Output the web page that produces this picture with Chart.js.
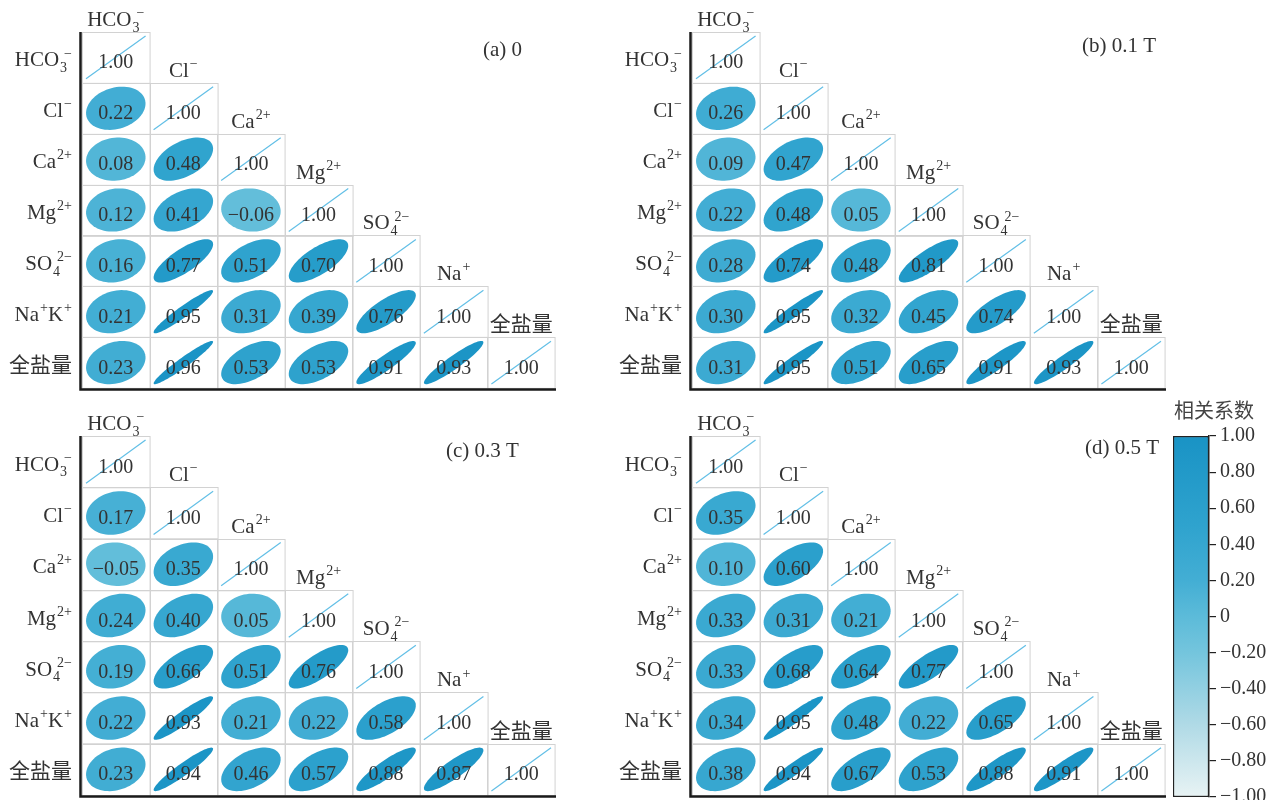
<!DOCTYPE html>
<html>
<head>
<meta charset="utf-8">
<script src="https://cdn.jsdelivr.net/npm/chart.js@4.4.1/dist/chart.umd.min.js"></script>
<style>
  html, body { margin: 0; padding: 0; background: #fff; }
  body { width: 1284px; height: 800px; overflow: hidden; position: relative; }
  canvas { position: absolute; }
</style>
</head>
<body>
<canvas id="pa" width="600" height="400" style="left:0;top:0"></canvas>
<canvas id="pb" width="600" height="400" style="left:610px;top:0"></canvas>
<canvas id="pc" width="600" height="396" style="left:0;top:404px"></canvas>
<canvas id="pd" width="600" height="396" style="left:610px;top:404px"></canvas>
<canvas id="cbar" width="124" height="420" style="left:1160px;top:395px"></canvas>
<script>
// variables (same order for rows and columns)
const rowLabels = ["HCO{_3}{^−}", "Cl{^−}", "Ca{^2+}", "Mg{^2+}", "SO{_4}{^2−}", "Na{^+}K{^+}", "全盐量"];
const colLabels = ["HCO{_3}{^−}", "Cl{^−}", "Ca{^2+}", "Mg{^2+}", "SO{_4}{^2−}", "Na{^+}", "全盐量"];

const panelTitles = ["(a) 0", "(b) 0.1 T", "(c) 0.3 T", "(d) 0.5 T"];

// lower triangle, row by row (row 2 .. row 7)
const corrA = [
    [0.22],
    [0.08, 0.48],
    [0.12, 0.41, -0.06],
    [0.16, 0.77, 0.51, 0.70],
    [0.21, 0.95, 0.31, 0.39, 0.76],
    [0.23, 0.96, 0.53, 0.53, 0.91, 0.93]
];
const corrB = [
    [0.26],
    [0.09, 0.47],
    [0.22, 0.48, 0.05],
    [0.28, 0.74, 0.48, 0.81],
    [0.30, 0.95, 0.32, 0.45, 0.74],
    [0.31, 0.95, 0.51, 0.65, 0.91, 0.93]
];
const corrC = [
    [0.17],
    [-0.05, 0.35],
    [0.24, 0.40, 0.05],
    [0.19, 0.66, 0.51, 0.76],
    [0.22, 0.93, 0.21, 0.22, 0.58],
    [0.23, 0.94, 0.46, 0.57, 0.88, 0.87]
];
const corrD = [
    [0.35],
    [0.10, 0.60],
    [0.33, 0.31, 0.21],
    [0.33, 0.68, 0.64, 0.77],
    [0.34, 0.95, 0.48, 0.22, 0.65],
    [0.38, 0.94, 0.67, 0.53, 0.88, 0.91]
];

const legendTitle = "相关系数";

// colour scale
const cmapPos = [-1, -0.6, -0.2, 0, 0.2, 0.5, 1];
const cmapColors = ["#e8f3f4", "#b0dae6", "#74c5dd", "#5cbbd9", "#43aed4", "#2fa3ce", "#1993c5"];

const FONT = '"Liberation Serif", "Noto Sans CJK SC", serif';
const TXT = "#333";

function hexRgb(h) {
    return [parseInt(h.slice(1, 3), 16), parseInt(h.slice(3, 5), 16), parseInt(h.slice(5, 7), 16)];
}
function cmap(v) {
    for (let i = 0; i < cmapPos.length - 1; i++) {
        if (v <= cmapPos[i + 1] || i === cmapPos.length - 2) {
            const t = Math.max(0, Math.min(1, (v - cmapPos[i]) / (cmapPos[i + 1] - cmapPos[i])));
            const a = hexRgb(cmapColors[i]), b = hexRgb(cmapColors[i + 1]);
            const c = a.map((x, k) => Math.round(x + (b[k] - x) * t));
            return "rgb(" + c.join(",") + ")";
        }
    }
}
function fmt(v) {
    if (Math.abs(v) < 1e-9) return "0";
    return v.toFixed(2).replace("-", "−");
}

// tiny markup: {_x} subscript, {^x} superscript, sub+sup stacked
function parseRich(s) {
    const out = [];
    const re = /\{([_^])([^}]*)\}|([^{]+)/g;
    let m;
    while ((m = re.exec(s))) {
        if (m[3]) out.push({ t: m[3], k: "n" });
        else out.push({ t: m[2], k: m[1] === "_" ? "sub" : "sup" });
    }
    return out;
}
function richDraw(c, s, x, y, align, size) {
    const small = Math.round(size * 0.65);
    const toks = parseRich(s);
    let cx = 0;
    const ops = [];
    for (let i = 0; i < toks.length; i++) {
        const tk = toks[i];
        if (tk.k === "n") {
            c.font = size + "px " + FONT;
            ops.push([tk.t, cx, 0, size]);
            cx += c.measureText(tk.t).width;
        } else {
            c.font = small + "px " + FONT;
            let w = c.measureText(tk.t).width;
            const nx = toks[i + 1];
            if (tk.k === "sub" && nx && nx.k === "sup") {
                // stacked: subscript under, superscript shifted a little right
                ops.push([tk.t, cx + 1, size * 0.27, small]);
                const w2 = c.measureText(nx.t).width;
                ops.push([nx.t, cx + 5, -size * 0.42, small]);
                w = Math.max(w + 1, w2 + 4);
                i++;
            } else {
                ops.push([tk.t, cx + 1, tk.k === "sub" ? size * 0.27 : -size * 0.42, small]);
            }
            cx += w + 1;
        }
    }
    let x0 = x;
    if (align === "right") x0 = x - cx;
    if (align === "center") x0 = x - cx / 2;
    c.textAlign = "left";
    c.textBaseline = "alphabetic";
    ops.forEach(o => {
        c.font = o[3] + "px " + FONT;
        c.fillText(o[0], x0 + o[1], y + o[2]);
    });
}

function buildPoints(corr) {
    const pts = [];
    for (let i = 0; i < rowLabels.length; i++) {
        for (let j = 0; j <= i; j++) {
            pts.push({ x: j + 0.5, y: i + 0.5, v: i === j ? 1 : corr[i - 1][j], diag: i === j });
        }
    }
    return pts;
}

const corrPlugin = {
    id: "corrCells",
    afterDatasetsDraw(chart, args, opts) {
        const c = chart.ctx;
        const xs = chart.scales.x, ys = chart.scales.y;
        const cw = xs.getPixelForValue(1) - xs.getPixelForValue(0);
        const ch = ys.getPixelForValue(1) - ys.getPixelForValue(0);
        const meta = chart.getDatasetMeta(0);
        const pts = chart.data.datasets[0].data;
        const area = chart.chartArea;
        c.save();

        // cell borders
        c.strokeStyle = "#d2d2d2";
        c.lineWidth = 1;
        meta.data.forEach((el) => {
            c.strokeRect(Math.round(el.x - cw / 2) + 0.5, Math.round(el.y - ch / 2) + 0.5, cw, ch);
        });

        meta.data.forEach((el, i) => {
            const p = pts[i];
            if (p.diag) {
                c.strokeStyle = "#62bfe6";
                c.lineWidth = 1.2;
                c.beginPath();
                c.moveTo(el.x - cw / 2 + 4, el.y + ch / 2 - 4);
                c.lineTo(el.x + cw / 2 - 4, el.y - ch / 2 + 4);
                c.stroke();
            } else {
                const d = Math.acos(p.v);
                const rx = cw / 2 * 0.88, ry = ch / 2 * 0.85;
                c.fillStyle = cmap(p.v);
                c.beginPath();
                for (let k = 0; k <= 72; k++) {
                    const t = k / 72 * Math.PI * 2;
                    const px = el.x + Math.cos(t + d / 2) * rx;
                    const py = el.y - Math.cos(t - d / 2) * ry;
                    if (k === 0) c.moveTo(px, py); else c.lineTo(px, py);
                }
                c.closePath();
                c.fill();
            }
            c.fillStyle = TXT;
            c.font = "20px " + FONT;
            c.textAlign = "center";
            c.textBaseline = "alphabetic";
            c.fillText(fmt(p.v), el.x, el.y + 11);
        });

        // frame: thick left and bottom lines
        c.strokeStyle = "#1a1a1a";
        c.lineWidth = 2.5;
        c.beginPath();
        c.moveTo(area.left - 1.5, area.top);
        c.lineTo(area.left - 1.5, area.bottom + 1.5);
        c.lineTo(area.right + 1, area.bottom + 1.5);
        c.stroke();

        // labels
        c.fillStyle = TXT;
        rowLabels.forEach((s, i) => {
            richDraw(c, s, area.left - 10, ys.getPixelForValue(i + 0.5) + 9, "right", 21);
        });
        colLabels.forEach((s, j) => {
            richDraw(c, s, xs.getPixelForValue(j + 0.5), ys.getPixelForValue(j) - 6, "center", 21);
        });

        // panel title
        c.font = "21px " + FONT;
        c.textAlign = "left";
        c.fillText(opts.title, opts.tx, opts.ty);
        c.restore();
    }
};

const panels = [
    { id: "pa", corr: corrA, title: panelTitles[0], pad: { left: 82, top: 32, right: 45, bottom: 12 }, tx: 483, ty: 56 },
    { id: "pb", corr: corrB, title: panelTitles[1], pad: { left: 82, top: 32, right: 45, bottom: 12 }, tx: 472, ty: 52 },
    { id: "pc", corr: corrC, title: panelTitles[2], pad: { left: 82, top: 32, right: 45, bottom: 5 }, tx: 446, ty: 53 },
    { id: "pd", corr: corrD, title: panelTitles[3], pad: { left: 82, top: 32, right: 45, bottom: 5 }, tx: 475, ty: 50 }
];

panels.forEach(p => {
    new Chart(document.getElementById(p.id), {
        type: "scatter",
        data: {
            datasets: [{ data: buildPoints(p.corr), pointRadius: 0, pointHoverRadius: 0 }]
        },
        options: {
            responsive: false,
            animation: false,
            events: [],
            layout: { padding: p.pad },
            scales: {
                x: { display: false, min: 0, max: 7 },
                y: { display: false, min: 0, max: 7, reverse: true }
            },
            plugins: {
                legend: { display: false },
                tooltip: { enabled: false },
                corrCells: { title: p.title, tx: p.tx, ty: p.ty }
            }
        },
        plugins: [corrPlugin]
    });
});

// COLOUR BAR
const cbarTitle = {
    id: "cbarTitle",
    afterDraw(chart) {
        const c = chart.ctx;
        c.save();
        c.fillStyle = "#444";
        c.font = '20px "Noto Sans CJK SC", sans-serif';
        c.textAlign = "center";
        c.textBaseline = "middle";
        c.fillText(legendTitle, 54, 15);
        c.restore();
    }
};

new Chart(document.getElementById("cbar"), {
    type: "bar",
    data: {
        labels: [""],
        datasets: [{
            data: [[-1, 1]],
            backgroundColor: (ctx) => {
                const area = ctx.chart.chartArea;
                if (!area) return cmapColors[3];
                const g = ctx.chart.ctx.createLinearGradient(0, area.bottom, 0, area.top);
                cmapPos.forEach((v, i) => g.addColorStop((v + 1) / 2, cmapColors[i]));
                return g;
            },
            borderColor: "#222",
            borderWidth: 1.5,
            borderSkipped: false,
            categoryPercentage: 1,
            barPercentage: 1
        }]
    },
    options: {
        responsive: false,
        animation: false,
        events: [],
        layout: { padding: { left: 13, top: 41, right: 0, bottom: 18 } },
        scales: {
            x: { display: false },
            y: {
                position: "right",
                min: -1,
                max: 1,
                afterFit: (s) => { s.width = 75; },
                ticks: {
                    stepSize: 0.2,
                    color: TXT,
                    padding: 4,
                    font: { family: FONT, size: 20 },
                    callback: (v) => fmt(v)
                },
                grid: { drawOnChartArea: false, drawTicks: true, tickLength: 7, color: "#222", lineWidth: 1.2 },
                border: { display: true, color: "#222", width: 1.5 }
            }
        },
        plugins: { legend: { display: false }, tooltip: { enabled: false } }
    },
    plugins: [cbarTitle]
});
</script>
</body>
</html>
